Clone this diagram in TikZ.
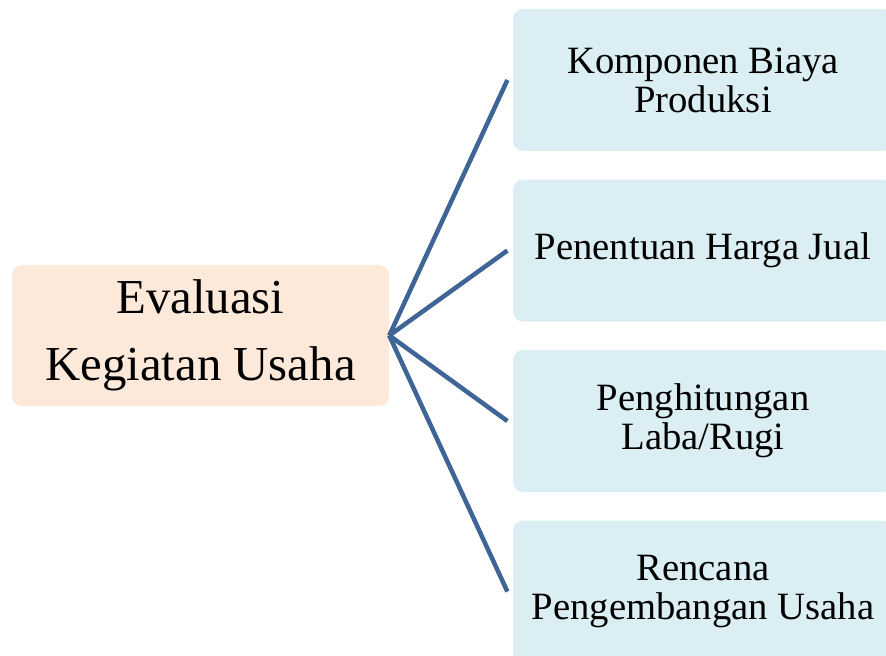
\documentclass[tikz,border=0pt]{standalone}
\usepackage{fontspec}
\setmainfont{Liberation Serif}
\usetikzlibrary{positioning}
\definecolor{peach}{HTML}{FDE9DA}
\definecolor{paleblue}{HTML}{DBEEF4}
\definecolor{linkblue}{HTML}{3F6597}
\tikzstyle{topic} = [fill=peach, rectangle, rounded corners=7.5pt, minimum width=282.75pt, minimum height=105.75pt, align=center, inner sep=0pt, font=\fontsize{36.6}{50}\selectfont]
\tikzstyle{item} = [fill=paleblue, rectangle, rounded corners=7.5pt, minimum width=285pt, minimum height=106.5pt, align=center, inner sep=0pt, font=\fontsize{29}{29.25}\selectfont]
\tikzstyle{line} = [draw=linkblue, line width=3.4pt]

\begin{document}
\begin{tikzpicture}[x=0.75pt, y=-0.75pt, node distance=21pt]
    \path [use as bounding box, clip] (0,0) rectangle (886,656);
    % Place nodes
    \node [topic] (evaluasi) at (200.5,335.5) {Evaluasi\\Kegiatan Usaha};
    \node [item] (komponen) at (703,80) {Komponen Biaya\\Produksi};
    \node [item, below=of komponen] (harga) {Penentuan Harga Jual};
    \node [item, below=of harga] (labarugi) {Penghitungan\\Laba/Rugi};
    \node [item, below=of labarugi] (rencana) {Rencana\\Pengembangan Usaha};
    % Draw edges
    \path [line] (evaluasi.east) -- ([xshift=-4pt]komponen.west);
    \path [line] (evaluasi.east) -- ([xshift=-4pt]harga.west);
    \path [line] (evaluasi.east) -- ([xshift=-4pt]labarugi.west);
    \path [line] (evaluasi.east) -- ([xshift=-4pt]rencana.west);
\end{tikzpicture}
\end{document}
